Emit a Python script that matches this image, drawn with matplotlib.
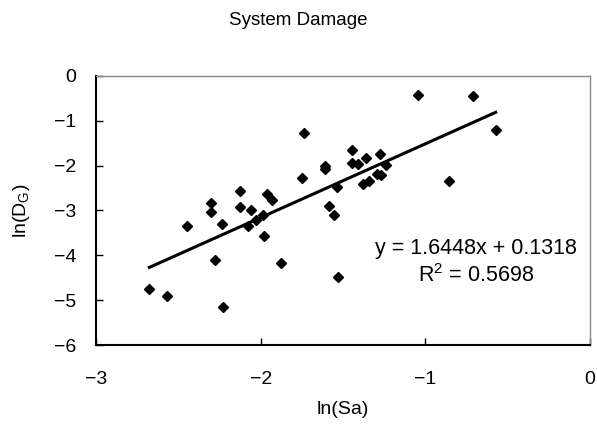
import matplotlib
matplotlib.use("Agg")
import matplotlib.pyplot as plt
import numpy as np

plt.rcParams['font.family'] = ['Liberation Sans', 'DejaVu Sans']
plt.rcParams['mathtext.default'] = 'regular'

# ln(Sa) vs ln(DG)
ln_sa = [-2.676, -2.571, -2.447, -2.304, -2.304, -2.235, -2.279, -2.227,
         -2.126, -2.126, -2.059, -2.075, -2.030, -1.984, -1.980, -1.964,
         -1.933, -1.875, -1.739, -1.749, -1.610, -1.610, -1.587, -1.553,
         -1.539, -1.531, -1.444, -1.444, -1.407, -1.359, -1.381, -1.344,
         -1.276, -1.292, -1.272, -1.239, -1.045, -0.855, -0.709, -0.573]
ln_dg = [-4.74, -4.90, -3.35, -2.84, -3.03, -3.31, -4.11, -5.15,
         -2.56, -2.92, -2.99, -3.34, -3.21, -3.09, -3.57, -2.63,
         -2.77, -4.18, -1.27, -2.28, -2.00, -2.08, -2.89, -3.11,
         -2.48, -4.48, -1.65, -1.94, -1.96, -1.82, -2.40, -2.34,
         -1.75, -2.19, -2.21, -1.99, -0.42, -2.34, -0.45, -1.21]

slope = 1.6448
intercept = 0.1318
r2 = 0.5698

fig = plt.figure(figsize=(5.97, 4.24), dpi=100)
ax = fig.add_axes([0.1608, 0.1863, 0.8275, 0.6345])

ax.plot(ln_sa, ln_dg, linestyle='none', marker='D', markersize=5,
        color='black', zorder=3)

xs = np.array([min(ln_sa), max(ln_sa)])
ax.plot(xs, slope * xs + intercept, color='black', linewidth=2.2, zorder=2)

ax.text(-0.693, -3.84, f"y = {slope:.4f}x + {intercept:.4f}", ha='center',
        va='center', fontsize=15.5)
ax.text(-0.693, -4.46, f"R$^2$ = {r2:.4f}", ha='center', va='center',
        fontsize=15.5)

ax.set_xlim(-3, 0)
ax.set_ylim(-6, 0)
ax.set_xticks([-3, -2, -1, 0])
ax.set_yticks([0, -1, -2, -3, -4, -5, -6])
ax.set_xticklabels(['\u22123', '\u22122', '\u22121', '0'])
ax.set_yticklabels(['0', '\u22121', '\u22122', '\u22123', '\u22124', '\u22125', '\u22126'])
ax.tick_params(direction='in', length=5, width=1, labelsize=14,
               colors='black')
ax.tick_params(axis='x', pad=19)
ax.tick_params(axis='y', pad=14)

for side in ['top', 'right']:
    ax.spines[side].set_color('#888888')
    ax.spines[side].set_linewidth(1)
for side in ['left', 'bottom']:
    ax.spines[side].set_color('black')
    ax.spines[side].set_linewidth(1.5)

ax.set_xlabel('ln(Sa)', fontsize=14, labelpad=9)
ax.set_ylabel(r'ln(D$_{G}$)', fontsize=14, labelpad=16)
fig.suptitle('System Damage', fontsize=13.5, y=0.972)

fig.savefig('out.png', dpi=100)
